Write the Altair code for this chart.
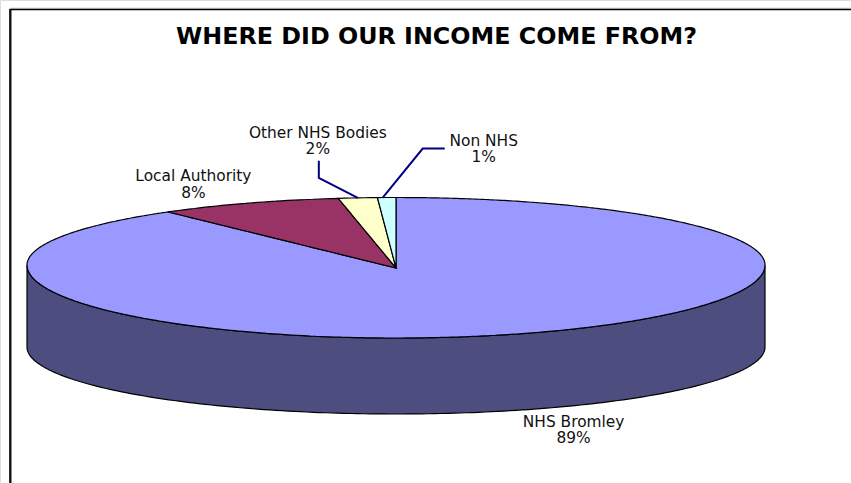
import math
import altair as alt
import pandas as pd

# Income shares in percent, clockwise from twelve o'clock
categories = ["NHS Bromley", "Local Authority", "Other NHS Bodies", "Non NHS"]
shares = [89.4, 8.1, 1.7, 0.8]
fills = ["#9999FF", "#993366", "#FFFFCC", "#CCFFFF"]
TITLE = "WHERE DID OUR INCOME COME FROM?"

W, H = 851, 483
CX, CY, APEX_Y = 396, 265, 268
RX, RY_BACK, RY_FRONT = 369, 67.5, 73
BASE_Y, BASE_RY = 347, 67

# Label and leader layout relative to the slice's rim point
label_offset = {
    "NHS Bromley": (57, 93),
    "Local Authority": (-55, -22),
    "Other NHS Bodies": (-40, -60),
    "Non NHS": (101, -52),
}
leader_bends = {
    "Other NHS Bodies": [(-39, -20), (-39, -37)],
    "Non NHS": [(40, -49), (62, -49)],
}
anchor_shift = {"Non NHS": -4}


def rim(deg):
    t = math.radians(deg)
    c = math.cos(t)
    return CX + RX * math.sin(t), CY - c * (RY_BACK if c > 0 else RY_FRONT)


def band(polygon):
    """Turn a polygon into x, y, y2 rows for an area mark."""
    xs = sorted({round(p[0] + d, 6) for p in polygon for d in (-1e-4, 1e-4)})
    rows = []
    edges = list(zip(polygon, polygon[1:] + polygon[:1]))
    for x in xs:
        hits = []
        for (x0, y0), (x1, y1) in edges:
            if x0 != x1 and min(x0, x1) <= x <= max(x0, x1):
                hits.append(y0 + (x - x0) / (x1 - x0) * (y1 - y0))
        if hits:
            rows.append({"x": x, "y": min(hits), "y2": max(hits)})
    return rows


# Slices
rows, labels, leaders = [], [], []
start = 0.0
for name, share in zip(categories, shares):
    end = start + share * 3.6
    steps = max(2, int(end - start))
    arc = [rim(start + (end - start) * i / steps) for i in range(steps + 1)]
    for r in band(arc + [(CX, APEX_Y)]):
        rows.append({**r, "part": name})
    ax, ay = rim((start + end) / 2)
    ax += anchor_shift.get(name, 0)
    dx, dy = label_offset[name]
    labels.append({"x": ax + dx, "y": ay + dy, "text": name})
    labels.append({"x": ax + dx, "y": ay + dy + 16.5, "text": f"{share:.0f}%"})
    if name in leader_bends:
        path = [(ax, ay)] + [(ax + a, ay + b) for a, b in leader_bends[name]]
        for i, (lx, ly) in enumerate(path):
            leaders.append({"x": lx, "y": ly, "part": name, "step": i})
    start = end

# Side wall below the front half of the rim
wall = []
for i in range(0, 181):
    t = math.radians(90 + i)
    x = CX + RX * math.sin(t)
    wall.append({
        "x": x,
        "y": CY - math.cos(t) * RY_FRONT,
        "y2": BASE_Y - math.cos(t) * BASE_RY,
        "part": "wall",
    })

x_enc = alt.X("x:Q", scale=alt.Scale(domain=[0, W], nice=False, zero=False), axis=None)
y_enc = alt.Y("y:Q", scale=alt.Scale(domain=[H, 0], nice=False, zero=False), axis=None, stack=None)
colour = alt.Color(
    "part:N",
    scale=alt.Scale(domain=categories + ["wall"], range=fills + ["#4D4D80"]),
    legend=None,
)

wall_layer = alt.Chart(pd.DataFrame(wall)).mark_area(stroke="black", strokeWidth=1.2).encode(
    x=x_enc, y=y_enc, y2="y2:Q", color=colour
)
slice_layers = [
    alt.Chart(pd.DataFrame([r for r in rows if r["part"] == name]))
    .mark_area(stroke="black", strokeWidth=1.2)
    .encode(x=x_enc, y=y_enc, y2="y2:Q", color=colour)
    for name in categories
]
leader_layer = alt.Chart(pd.DataFrame(leaders)).mark_line(color="#000080", strokeWidth=2).encode(
    x=x_enc, y=y_enc, detail="part:N", order="step:Q"
)
text_layer = alt.Chart(pd.DataFrame(labels)).mark_text(
    font="DejaVu Sans", fontSize=15.4, color="#111111", align="center", baseline="alphabetic"
).encode(x=x_enc, y=y_enc, text="text:N")

# Frame along the top and left edges
frame_top = alt.Chart(pd.DataFrame({"a": [0]})).mark_rule(color="black", strokeWidth=1.6).encode(
    x=alt.value(10), x2=alt.value(W), y=alt.value(9.5)
)
frame_top_shade = alt.Chart(pd.DataFrame({"a": [0]})).mark_rule(color="#c8c8c8", strokeWidth=1).encode(
    x=alt.value(10), x2=alt.value(W), y=alt.value(8.2)
)
frame_left = alt.Chart(pd.DataFrame({"a": [0]})).mark_rule(color="#111111", strokeWidth=2.4).encode(
    y=alt.value(9), y2=alt.value(H), x=alt.value(10.3)
)

chart = alt.layer(
    frame_top_shade, frame_top, frame_left, wall_layer, *slice_layers, leader_layer, text_layer
).properties(
    width=W,
    height=H,
    padding=0,
    autosize=alt.AutoSizeParams(type="none"),
    title=alt.TitleParams(
        TITLE, font="DejaVu Sans", fontSize=23.8, fontWeight="bold", color="black",
        anchor="middle", frame="group", dx=11, dy=72, baseline="alphabetic",
    ),
).configure_view(stroke=None).configure(background="white")

chart.save("out.html", embed_options={"renderer": "svg", "actions": False})
